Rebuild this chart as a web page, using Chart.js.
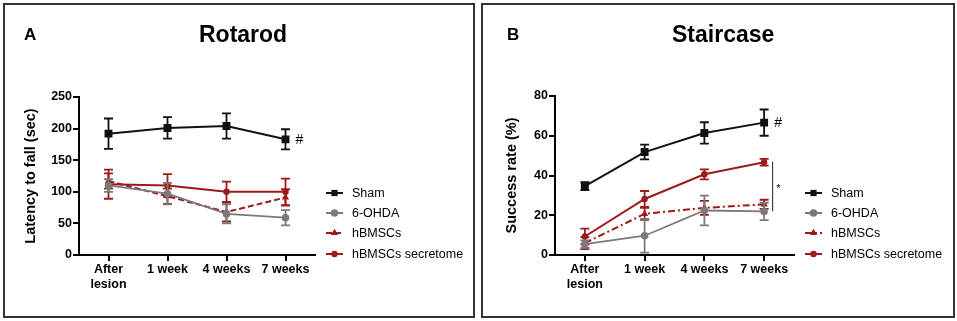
<!DOCTYPE html>
<html><head><meta charset="utf-8">
<script src="https://cdn.jsdelivr.net/npm/chart.js@4/dist/chart.umd.min.js"></script>
<style>
html,body{margin:0;padding:0;background:#fff;}
body{width:957px;height:321px;position:relative;overflow:hidden;font-family:"Liberation Sans",Arial,sans-serif;}
.panel{position:absolute;border:2px solid #333;box-sizing:border-box;}
canvas{position:absolute;top:0;}
.lbl{position:absolute;font-weight:bold;color:#000;line-height:1;white-space:nowrap;}
</style></head>
<body>
<div class="panel" style="left:3px;top:3px;width:472px;height:315px;"></div>
<div class="panel" style="left:481px;top:3px;width:474px;height:315px;"></div>
<canvas id="cL" width="478" height="321" style="left:0px;"></canvas>
<canvas id="cR" width="479" height="321" style="left:478px;"></canvas>
<div class="lbl" style="left:24px;top:26px;font-size:17px;">A</div>
<div class="lbl" style="left:199px;top:23px;font-size:23px;">Rotarod</div>
<div class="lbl" style="left:507px;top:26px;font-size:17px;">B</div>
<div class="lbl" style="left:672px;top:23px;font-size:23px;">Staircase</div>
<script>
// ---- data ----
const categories = [['After','lesion'], '1 week', '4 weeks', '7 weeks'];
const seriesNames = ['Sham', '6-OHDA', 'hBMSCs', 'hBMSCs secretome'];

const rotarodTicks = [0, 50, 100, 150, 200, 250];
const rotarodSham = [192, 201, 204, 183];
const rotarodShamErr = [24, 17, 20, 16];
const rotarodOHDA = [110, 97, 65, 59];
const rotarodOHDAErr = [10, 17, 15, 12];
const rotarodHB = [117, 93, 68, 91];
const rotarodHBErr = [12, 12, 15, 13];
const rotarodSec = [112, 110, 100, 100];
const rotarodSecErr = [23, 18, 16, 21];

const stairTicks = [0, 20, 40, 60, 80];
const stairSham = [34.6, 51.8, 61.4, 66.6];
const stairShamErr = [2, 3.7, 5.4, 6.6];
const stairOHDA = [5.5, 9.7, 22.4, 21.9];
const stairOHDAErr = [1.9, 8.5, 7.5, 4.4];
const stairHB = [6.0, 20.7, 23.7, 25.5];
const stairHBErr = [3, 3, 3.5, 2.3];
const stairSec = [9.3, 28.2, 40.6, 46.7];
const stairSecErr = [4, 4, 2.5, 1.7];
const stairSigBracket = [22, 47];

// ---- styles ----
const RED = '#9e1a1a', GRAY = '#7a7a7a', BLACK = '#111';
const FONT = '"Liberation Sans", Arial, sans-serif';

function mkDatasets(sham, shamE, ohda, ohdaE, hb, hbE, sec, secE, hbDash) {
  return [
    {label: seriesNames[0], data: sham, errors: shamE, borderColor: BLACK, backgroundColor: BLACK,
     borderWidth: 2, pointStyle: 'rect', pointRadius: 5.6, pointBorderWidth: 0},
    {label: seriesNames[1], data: ohda, errors: ohdaE, borderColor: GRAY, backgroundColor: GRAY,
     borderWidth: 1.8, pointStyle: 'circle', pointRadius: 3.8, pointBorderWidth: 0},
    {label: seriesNames[2], data: hb, errors: hbE, borderColor: RED, backgroundColor: RED,
     borderWidth: 2, borderDash: hbDash, pointStyle: 'triangle', pointRadius: 4.2, pointBorderWidth: 0},
    {label: seriesNames[3], data: sec, errors: secE, borderColor: RED, backgroundColor: RED,
     borderWidth: 2, pointStyle: 'circle', pointRadius: 3.2, pointBorderWidth: 0}
  ];
}

const errorBarPlugin = {
  id: 'errbars',
  afterDatasetDraw(chart, args) {
    const ds = chart.data.datasets[args.index];
    if (!ds.errors) return;
    const ctx = chart.ctx, y = chart.scales.y;
    ctx.save();
    ctx.strokeStyle = ds.borderColor; ctx.lineWidth = 1.8; ctx.setLineDash([]);
    args.meta.data.forEach((pt, j) => {
      const v = ds.data[j], e = ds.errors[j];
      const yt = y.getPixelForValue(v + e), yb = y.getPixelForValue(v - e);
      ctx.beginPath();
      ctx.moveTo(pt.x, yt); ctx.lineTo(pt.x, yb);
      ctx.moveTo(pt.x - 4.5, yt); ctx.lineTo(pt.x + 4.5, yt);
      ctx.moveTo(pt.x - 4.5, yb); ctx.lineTo(pt.x + 4.5, yb);
      ctx.stroke();
    });
    ctx.restore();
  }
};

function drawMarker(ctx, style, x, y, r) {
  ctx.beginPath();
  if (style === 'rect') { const s = r * Math.SQRT1_2; ctx.rect(x - s, y - s, 2 * s, 2 * s); }
  else if (style === 'triangle') {
    ctx.moveTo(x, y - r); ctx.lineTo(x + r * 0.866, y + r * 0.5); ctx.lineTo(x - r * 0.866, y + r * 0.5); ctx.closePath();
  } else { ctx.arc(x, y, r, 0, Math.PI * 2); }
  ctx.fill();
}

const legendPlugin = {
  id: 'sideLegend',
  afterDraw(chart, args, opts) {
    const ctx = chart.ctx, a = chart.chartArea;
    const x0 = a.right + 11, x1 = a.right + 28, tx = a.right + 37;
    const rows = [193, 213, 233, 254];
    ctx.save();
    chart.data.datasets.forEach((ds, i) => {
      const yy = rows[i];
      ctx.strokeStyle = ds.borderColor; ctx.fillStyle = ds.borderColor; ctx.lineWidth = 2;
      ctx.setLineDash(ds.borderDash || []);
      ctx.beginPath(); ctx.moveTo(x0, yy); ctx.lineTo(x1, yy); ctx.stroke();
      ctx.setLineDash([]);
      drawMarker(ctx, ds.pointStyle, (x0 + x1) / 2, yy, Math.min(ds.pointRadius, 4.4));
      ctx.fillStyle = '#000';
      ctx.font = '12.5px ' + FONT; ctx.textBaseline = 'middle'; ctx.textAlign = 'left';
      ctx.fillText(ds.label, tx, yy + 0.5);
    });
    // annotations
    const xs = chart.scales.x, ys = chart.scales.y;
    const sham = chart.data.datasets[0];
    const last = sham.data.length - 1;
    ctx.font = '14px ' + FONT; ctx.fillStyle = '#000';
    ctx.fillText('#', xs.getPixelForValue(last) + 10, ys.getPixelForValue(sham.data[last]) + 1);
    if (opts.bracket) {
      const bx = xs.getPixelForValue(last) + 8;
      ctx.strokeStyle = '#222'; ctx.lineWidth = 1;
      ctx.beginPath();
      ctx.moveTo(bx + 0.5, ys.getPixelForValue(opts.bracket[1]));
      ctx.lineTo(bx + 0.5, ys.getPixelForValue(opts.bracket[0]));
      ctx.stroke();
      ctx.font = '11px ' + FONT;
      ctx.fillText('*', bx + 4, ys.getPixelForValue((opts.bracket[0] + opts.bracket[1]) / 2) + 3);
    }
    ctx.restore();
  }
};

function makeChart(id, datasets, ymax, ystep, ytitle, padL, yAxisW, topPad, bracket) {
  const tickFont = {family: FONT, size: 12.5, weight: 'bold'};
  return new Chart(document.getElementById(id), {
    type: 'line',
    data: {labels: categories, datasets: datasets},
    plugins: [errorBarPlugin, legendPlugin],
    options: {
      responsive: false, animation: false, devicePixelRatio: 1,
      layout: {padding: {left: padL, top: topPad, right: 163, bottom: 4}},
      elements: {line: {tension: 0}},
      plugins: {legend: {display: false}, tooltip: {enabled: false}, sideLegend: {bracket: bracket}},
      scales: {
        x: {
          type: 'category', offset: true,
          grid: {display: true, drawOnChartArea: false, drawTicks: true, tickLength: 6, color: '#000', lineWidth: 2},
          border: {color: '#000', width: 2},
          ticks: {color: '#000', font: tickFont, padding: 1, maxRotation: 0, autoSkip: false},
          afterFit: s => { s.height = 321 - (topPad + 158) - 4 - (id === 'cR' ? 1 : 0); }
        },
        y: {
          min: 0, max: ymax,
          grid: {display: true, drawOnChartArea: false, drawTicks: true, tickLength: 6, color: '#000', lineWidth: 2},
          border: {color: '#000', width: 2},
          ticks: {color: '#000', font: tickFont, stepSize: ystep, padding: 1},
          title: {display: true, text: ytitle, color: '#000', font: {family: FONT, size: 14.5, weight: 'bold'}, padding: 0},
          afterFit: s => { s.width = yAxisW; }
        }
      }
    }
  });
}

makeChart('cL', mkDatasets(rotarodSham, rotarodShamErr, rotarodOHDA, rotarodOHDAErr, rotarodHB, rotarodHBErr, rotarodSec, rotarodSecErr, [6, 3]),
  rotarodTicks[rotarodTicks.length - 1], rotarodTicks[1] - rotarodTicks[0], 'Latency to fall (sec)', 22, 57, 97, null);
makeChart('cR', mkDatasets(stairSham, stairShamErr, stairOHDA, stairOHDAErr, stairHB, stairHBErr, stairSec, stairSecErr, [7, 3, 2, 3]),
  stairTicks[stairTicks.length - 1], stairTicks[1] - stairTicks[0], 'Success rate (%)', 25, 52, 96, stairSigBracket);
</script>
</body></html>
